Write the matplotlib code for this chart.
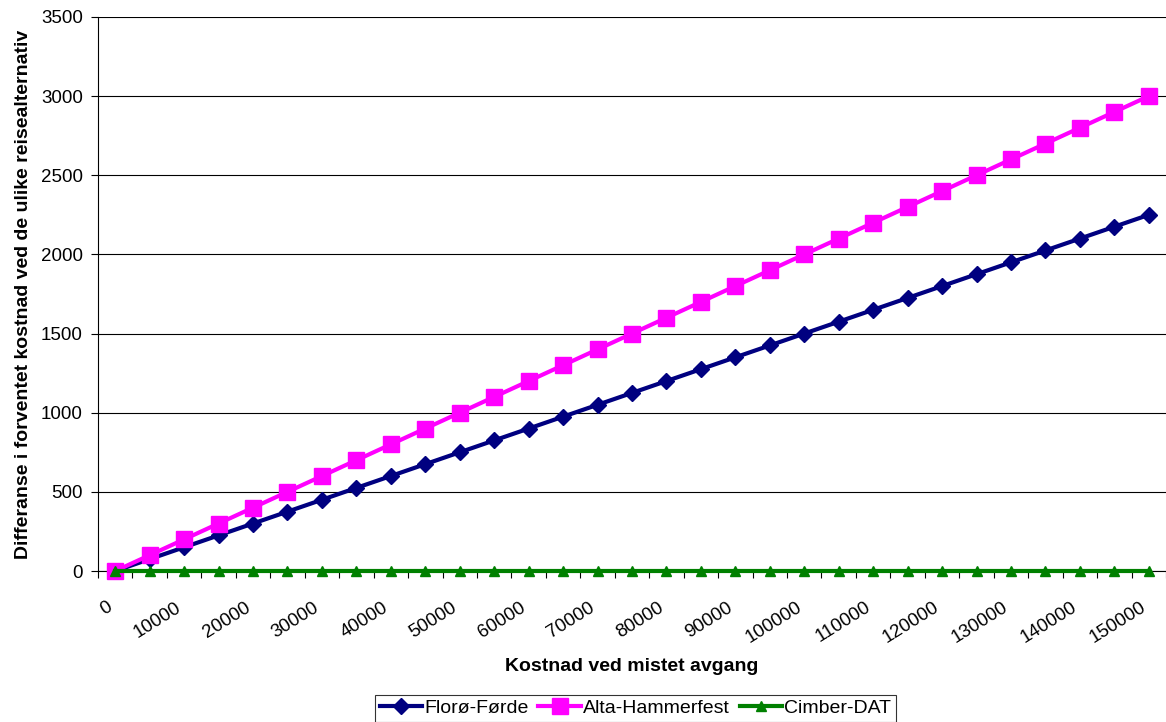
import matplotlib.pyplot as plt
import numpy as np

plt.rcParams['font.family'] = ['Liberation Sans', 'DejaVu Sans']

# kostnad ved mistet avgang (kategorier)
kostnad = list(range(0, 150001, 5000))
floro_forde = [0, 75, 150, 225, 300, 375, 450, 525, 600, 675, 750, 825, 900, 975,
               1050, 1125, 1200, 1275, 1350, 1425, 1500, 1575, 1650, 1725, 1800,
               1875, 1950, 2025, 2100, 2175, 2250]
alta_hammerfest = [0, 100, 200, 300, 400, 500, 600, 700, 800, 900, 1000, 1100,
                   1200, 1300, 1400, 1500, 1600, 1700, 1800, 1900, 2000, 2100,
                   2200, 2300, 2400, 2500, 2600, 2700, 2800, 2900, 3000]
cimber_dat = [0] * 31

fig = plt.figure(figsize=(11.66, 7.22), dpi=100)
ax = fig.add_axes([98 / 1166, 1 - 571 / 722, 1 - 98 / 1166, (571 - 17) / 722])

x = np.arange(len(kostnad))
ax.plot(x, floro_forde, color='#000080', lw=3, marker='D', ms=8.5,
        label='Florø-Førde', zorder=3, clip_on=False)
ax.plot(x, alta_hammerfest, color='#FF00FF', lw=3, marker='s', ms=11,
        label='Alta-Hammerfest', zorder=4, clip_on=False)
ax.plot(x, cimber_dat, color='#008000', lw=3, marker='^', ms=7.5,
        label='Cimber-DAT', zorder=5, clip_on=False)

ax.set_xlim(-0.5, 30.39)
ax.set_ylim(0, 3500)
ax.set_yticks(range(0, 3501, 500))
ax.yaxis.grid(True, color='black', lw=0.8)
ax.set_axisbelow(True)

# tick marks between categories, labels on every second category
# (label anchors nudged a quarter category left, like the rotated Excel labels)
ax.set_xticks(np.arange(-0.5, len(kostnad), 1.0))
ax.set_xticklabels([])
ax.set_xticks(x[::2] - 0.25, minor=True)
ax.set_xticklabels([str(k) for k in kostnad[::2]], minor=True,
                   rotation=32, ha='right', va='top', rotation_mode='anchor')
ax.tick_params(axis='x', which='major', direction='out', length=5, width=0.8)
ax.tick_params(axis='x', which='minor', length=0, pad=20, labelsize=13.5)
ax.tick_params(axis='y', direction='out', length=5, width=0.8, labelsize=13.5,
               pad=6)

for s in ['top', 'right']:
    ax.spines[s].set_visible(False)
ax.spines['left'].set_linewidth(0.8)
ax.spines['bottom'].set_linewidth(0.8)

ax.set_xlabel('Kostnad ved mistet avgang', fontsize=14, fontweight='bold',
              labelpad=8)
ax.set_ylabel('Differanse i forventet kostnad ved de ulike reisealternativ',
              fontsize=14, fontweight='bold', labelpad=6)

leg = fig.legend(loc='lower center', bbox_to_anchor=(0.545, 0.0), ncol=3,
                 fontsize=14, frameon=True, fancybox=False, edgecolor='black',
                 borderpad=0.25, handlelength=2.2, handletextpad=0.1,
                 columnspacing=0.5, borderaxespad=0.0)
leg.get_frame().set_linewidth(0.8)

fig.savefig('out.png', dpi=100)
